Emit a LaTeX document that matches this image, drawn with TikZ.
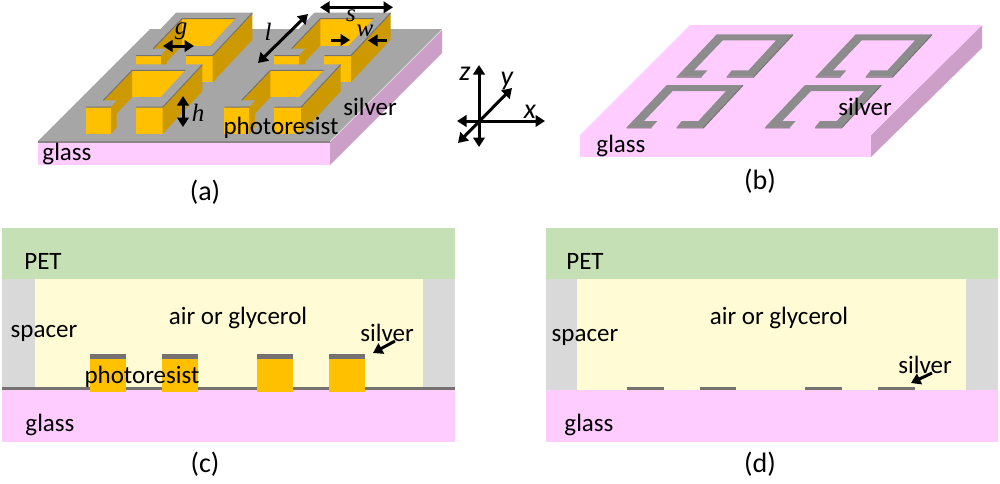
\documentclass[tikz,border=0pt]{standalone}
\usepackage{fontspec}
\setmainfont{Carlito}
\newfontfamily\mathserif[Ligatures=TeX]{Liberation Serif}
\usetikzlibrary{arrows.meta}
\definecolor{glasspink}{HTML}{FFCCFF}
\definecolor{glassside}{HTML}{CC9FC9}
\definecolor{resist}{HTML}{FFC000}
\definecolor{resistdark}{HTML}{CC9A00}
\definecolor{silvertop}{HTML}{A6A6A6}
\definecolor{silverb}{HTML}{8C8C8C}
\definecolor{silveredge}{HTML}{767171}
\definecolor{petgreen}{HTML}{C5E0B4}
\definecolor{airyellow}{HTML}{FFFCD5}
\definecolor{spacergray}{HTML}{D9D9D9}
\tikzset{
  lbl/.style={font=\fontsize{25}{27}\selectfont,inner sep=0pt,text=black},
  captxt/.style={font=\fontsize{28}{30}\selectfont,inner sep=0pt,text=black},
  sym/.style={font=\fontsize{25}{27}\selectfont\mathserif\itshape,inner sep=0pt,text=black},
  axl/.style={font=\fontsize{28}{30}\selectfont\itshape,inner sep=0pt,text=black},
  dbl/.style={line width=3pt,{Triangle[length=9.5pt,width=11.5pt]}-{Triangle[length=9.5pt,width=11.5pt]},black},
  sgl/.style={line width=3pt,-{Triangle[length=9.5pt,width=11.5pt]},black},
}
\newcommand{\srrtop}{(0,0)--(40,-42.3)--(116.3,-42.3)--(76.7,0)--(50,0)--(55,-6.3)--(71.7,-6.3)--(99.3,-36.3)--(46,-36.3)--(17.3,-6.3)--(30.7,-6.3)--(25,0)--cycle}
\newcommand{\srrA}[2]{\begin{scope}[shift={(#1,#2)}]
  \fill[resist] (46,-36.3)--(99.3,-36.3)--(99.3,-9.3)--(46,-9.3)--cycle;
  \fill[resistdark] (17.3,-6.3)--(46,-36.3)--(46,-9.3)--(17.3,20.7)--cycle;
  \fill[resist] (50,0)--(76.7,0)--(76.7,27)--(50,27)--cycle;
  \fill[resistdark] (76.7,0)--(116.3,-42.3)--(116.3,-15.3)--(76.7,27)--cycle;
  \fill[resistdark] (25,0)--(30.7,-6.3)--(30.7,20.7)--(25,27)--cycle;
  \fill[resist] (0,0)--(25,0)--(25,27)--(0,27)--cycle;
  \fill[silvertop] \srrtop;
  \draw[silveredge,line width=1pt] (0,0.5)--(25,0.5) (50,0.5)--(76.7,0.5)--(116.3,-42) (17.3,-6.3)--(46,-36.3)--(99.3,-36.3);
\end{scope}}
\newcommand{\srrB}[2]{\begin{scope}[shift={(#1,#2)}]
  \fill[silverb] \srrtop;
  \draw[silveredge,line width=1pt] (0,0.5)--(25,0.5) (50,0.5)--(76.7,0.5)--(116.3,-42);
\end{scope}}
\begin{document}
\begin{tikzpicture}[x=1pt,y=-1pt]
\useasboundingbox (0,0) rectangle (1000,483);
\fill[white] (0,0) rectangle (1000,483);
% panel (a)
\fill[glassside] (330,142)--(442,30)--(442,53)--(330,165)--cycle;
\fill[glasspink] (38,142) rectangle (330,165);
\fill[silvertop] (38,141)--(150,29)--(442,29)--(330,141)--cycle;
\fill[silveredge!85!white] (38,141) rectangle (330,143);
\srrA{136}{55}
\srrA{274.3}{55}
\srrA{86}{106.7}
\srrA{224.3}{106.7}
\coordinate (g1) at (163,46); \coordinate (g2) at (194,46);
\coordinate (l1) at (258,63); \coordinate (l2) at (308,14);
\coordinate (h1) at (183,96); \coordinate (h2) at (183,127);
\coordinate (s1) at (320,7.3); \coordinate (s2) at (393,7.3);
\coordinate (w1) at (331,40); \coordinate (w2) at (350,40);
\coordinate (w3) at (387,40.5); \coordinate (w4) at (368,40.5);
\draw[dbl] (g1)--(g2);
\draw[dbl] (l1)--(l2);
\draw[dbl] (h1)--(h2);
\draw[dbl] (s1)--(s2);
\draw[sgl] (w1)--(w2);
\draw[sgl] (w3)--(w4);
\node[sym] (tg) at (181,31) {g};
\node[sym] (tl) at (268,32) {l};
\node[sym] (th) at (198,113) {h};
\node[sym] (ts) at (351,16) {s};
\node[sym] (tw) at (365,31) {w};
\node[lbl] (asil) at (370,107) {silver};
\node[lbl] (apr) at (281,128) {photoresist};
\node[lbl] (agl) at (67,154) {glass};
\node[captxt] (capa) at (205,192) {(a)};
% axes
\coordinate (zp) at (479,65); \coordinate (zm) at (479,147);
\coordinate (xp) at (545,121); \coordinate (xm) at (457,121);
\coordinate (yp) at (512,88); \coordinate (ym) at (458,143);
\draw[dbl] (zm)--(zp);
\draw[dbl] (xm)--(xp);
\draw[dbl] (ym)--(yp);
\node[axl] (tz) at (465,74) {z};
\node[axl] (ty) at (507,81) {y};
\node[axl] (tx) at (530,112) {x};
% panel (b)
\fill[glassside] (871,135)--(982,25)--(982,48)--(871,157)--cycle;
\fill[glasspink] (580,135) rectangle (871,157);
\fill[glasspink] (580,135)--(690,25)--(982,25)--(871,135)--cycle;
\srrB{676.7}{76.7}
\srrB{815.7}{76.7}
\srrB{626.7}{127.3}
\srrB{765}{127.3}
\node[lbl] (bsil) at (865,107) {silver};
\node[lbl] (bgl) at (621,146) {glass};
\node[captxt] (capb) at (760,181) {(b)};
% panel (c)
\fill[petgreen] (2,228) rectangle (455,279);
\fill[spacergray] (2,279) rectangle (455,387);
\fill[airyellow] (35,279) rectangle (423,387);
\fill[silveredge] (2,387) rectangle (455,390);
\fill[glasspink] (2,390) rectangle (455,442);
\foreach \px in {90,162,257,329}{
  \fill[resist] (\px,359) rectangle (\px+36,392);
  \fill[silveredge] (\px,354) rectangle (\px+36,359);
}
\node[lbl] (cpet) at (43,261) {PET};
\node[lbl] (cspa) at (44,333) {spacer};
\node[lbl] (cair) at (238,318) {air or glycerol};
\node[lbl] (csil) at (387,333) {silver};
\node[lbl] (cpr) at (142,377) {photoresist};
\node[lbl] (cgl) at (50,425) {glass};
\node[captxt] (capc) at (205,464) {(c)};
\coordinate (ca1) at (395,341); \coordinate (ca2) at (373,353);
\draw[sgl] (ca1)--(ca2);
% panel (d)
\fill[petgreen] (546,228) rectangle (998,279);
\fill[spacergray] (546,279) rectangle (998,390);
\fill[airyellow] (577,279) rectangle (966,390);
\fill[glasspink] (546,390) rectangle (998,442);
\fill[silveredge] (627,387) rectangle (664,390);
\fill[silveredge] (700,387) rectangle (736,390);
\fill[silveredge] (805,387) rectangle (842,390);
\fill[silveredge] (878,387) rectangle (915,390);
\node[lbl] (dpet) at (585,261) {PET};
\node[lbl] (dspa) at (585,337) {spacer};
\node[lbl] (dair) at (779,318) {air or glycerol};
\node[lbl] (dsil) at (925,365) {silver};
\node[lbl] (dgl) at (589,425) {glass};
\node[captxt] (capd) at (760,464) {(d)};
\coordinate (da1) at (932,373); \coordinate (da2) at (911,383);
\draw[sgl] (da1)--(da2);
\end{tikzpicture}
\end{document}
